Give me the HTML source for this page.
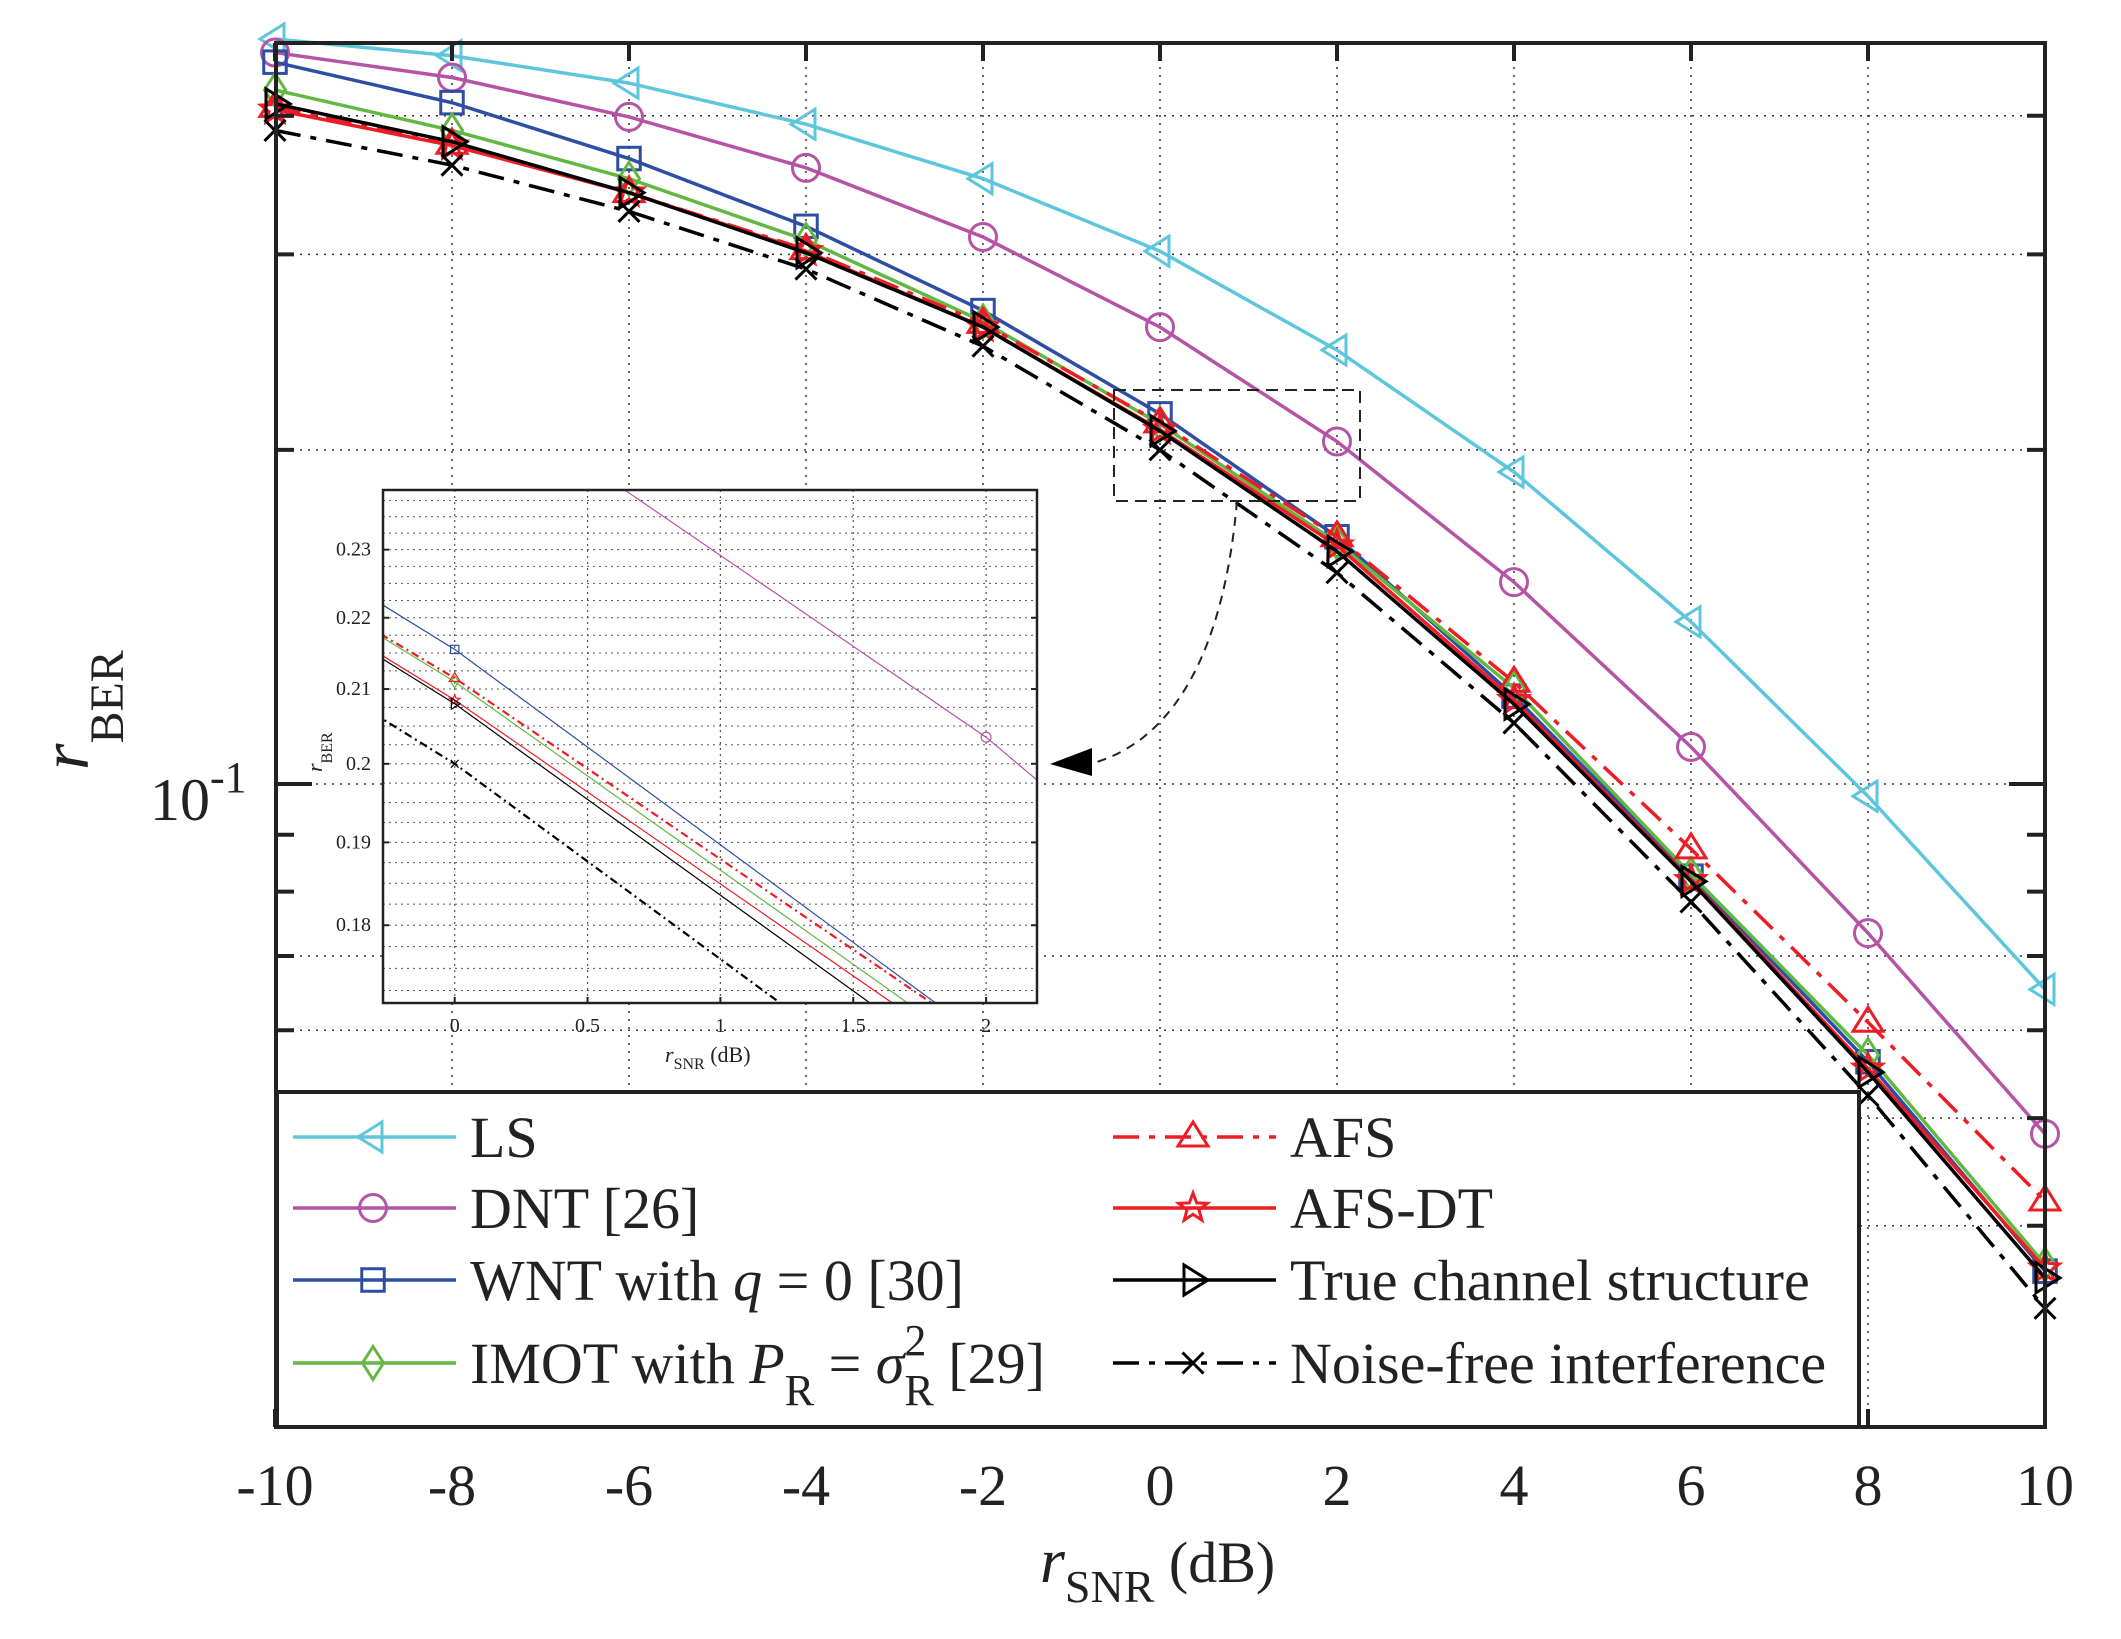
<!DOCTYPE html>
<html><head><meta charset="utf-8"><style>
html,body{margin:0;padding:0;background:#fff;width:2121px;height:1639px;overflow:hidden}
svg{display:block}
text{font-family:"Liberation Serif",serif;fill:#222}
</style></head><body>
<svg id="chart" width="2121" height="1639" viewBox="0 0 2121 1639" xmlns="http://www.w3.org/2000/svg">
<rect width="2121" height="1639" fill="#fff"/>
<g id="grid"></g>
<g id="series"></g>
<g id="axes"></g>
<g id="inset"></g>
<g id="legend"></g>
</svg>
<script>
const snr = [-10,-8,-6,-4,-2,0,2,4,6,8,10];
const xTicks = ["-10","-8","-6","-4","-2","0","2","4","6","8","10"];
const lsVals   = [0.469,0.453,0.428,0.393,0.351,0.302,0.246,0.191,0.140,0.0975,0.0653];
const dntVals  = [0.456,0.433,0.399,0.359,0.311,0.258,0.2035,0.152,0.108,0.0734,0.0484];
const wntVals  = [0.447,0.411,0.366,0.318,0.267,0.2155,0.167,0.120,0.0826,0.0562,0.0364];
const imotVals = [0.422,0.388,0.351,0.309,0.261,0.211,0.165,0.122,0.0829,0.057,0.0369];
const afsVals  = [0.407,0.377,0.341,0.303,0.260,0.2115,0.167,0.1235,0.0874,0.061,0.0421];
const afsdtVals= [0.405,0.376,0.341,0.302,0.258,0.2085,0.164,0.119,0.0819,0.0554,0.0366];
const trueVals = [0.410,0.379,0.341,0.301,0.258,0.208,0.162,0.118,0.0817,0.055,0.0359];
const nfVals   = [0.388,0.361,0.328,0.291,0.248,0.200,0.155,0.1135,0.0783,0.0524,0.0337];
const insetXTicks = [0,0.5,1,1.5,2];
const insetYTicks = [0.18,0.19,0.2,0.21,0.22,0.23];

const NS="http://www.w3.org/2000/svg";
function mk(tag,attrs,parent){const e=document.createElementNS(NS,tag);for(const k in attrs)e.setAttribute(k,attrs[k]);parent.appendChild(e);return e;}
const L=276,R=2045,T=43,B=1427;
const X=v=>1160+(v)*88.5;
const Y=v=>784-1110*Math.log10(v/0.1);

const series=[
 {name:"LS",vals:lsVals,color:"#5ec6dc",dash:"",m:"tl"},
 {name:"DNT",vals:dntVals,color:"#b553a6",dash:"",m:"o"},
 {name:"WNT",vals:wntVals,color:"#2e4ea3",dash:"",m:"s"},
 {name:"IMOT",vals:imotVals,color:"#62b842",dash:"",m:"d"},
 {name:"AFS",vals:afsVals,color:"#ee1c24",dash:"26 10 6 10",m:"tu"},
 {name:"AFS-DT",vals:afsdtVals,color:"#ee1c24",dash:"",m:"p"},
 {name:"True",vals:trueVals,color:"#000",dash:"",m:"tr"},
 {name:"NF",vals:nfVals,color:"#000",dash:"26 10 6 10",m:"x"}
];
function marker(g,type,x,y,s,color,sw){
  const h=s/2;let e;
  const a={fill:"none",stroke:color,"stroke-width":sw};
  if(type==="o"){e=mk("circle",Object.assign({cx:x,cy:y,r:h*0.9},a),g);}
  else if(type==="s"){e=mk("rect",Object.assign({x:x-h*0.75,y:y-h*0.75,width:h*1.5,height:h*1.5},a),g);}
  else{let p;
    if(type==="tl")p=[[x-h,y],[x+h*0.6,y-h],[x+h*0.6,y+h]];
    if(type==="tr")p=[[x+h,y],[x-h*0.6,y-h],[x-h*0.6,y+h]];
    if(type==="tu")p=[[x,y-h],[x-h,y+h*0.6],[x+h,y+h*0.6]];
    if(type==="d")p=[[x,y-h*1.1],[x+h*0.7,y],[x,y+h*1.1],[x-h*0.7,y]];
    if(type==="p"){p=[];for(let i=0;i<10;i++){const r=i%2?h*0.42:h;const an=-Math.PI/2+i*Math.PI/5;p.push([x+r*Math.cos(an),y+r*Math.sin(an)]);}}
    if(type==="x"){e=mk("path",Object.assign({d:`M${x-h*0.7},${y-h*0.7}L${x+h*0.7},${y+h*0.7}M${x-h*0.7},${y+h*0.7}L${x+h*0.7},${y-h*0.7}`},a),g);}
    else e=mk("polygon",Object.assign({points:p.map(q=>q.join(",")).join(" ")},a),g);
  }
  
  
  return e;
}

// grid
const grid=document.getElementById('grid');
snr.forEach(v=>{const l=mk("line",{x1:X(v),x2:X(v),y1:T,y2:B,stroke:"#333","stroke-width":1.5,"stroke-dasharray":"2 6"},grid);

});
[0.04,0.05,0.06,0.07,0.1,0.2,0.3,0.4].forEach(v=>{const l=mk("line",{x1:L,x2:R,y1:Y(v),y2:Y(v),stroke:"#333","stroke-width":1.5,"stroke-dasharray":"2 6"},grid);

});

// series
const sg=document.getElementById('series');
series.forEach(s=>{
  const g=mk("g",{},sg);
  
  
  const pl=mk("polyline",{points:s.vals.map((v,i)=>X(snr[i])+","+Y(v)).join(" "),fill:"none",stroke:s.color,"stroke-width":3.5,"stroke-dasharray":s.dash},g);
  
  
  s.vals.forEach((v,i)=>marker(g,s.m,X(snr[i]),Y(v),30,s.color,3));
});

// axes
const ax=document.getElementById('axes');
const frame=mk("rect",{x:L,y:T,width:R-L,height:B-T,fill:"none",stroke:"#222","stroke-width":4},ax);


snr.forEach((v,i)=>{
  mk("line",{x1:X(v),x2:X(v),y1:B,y2:B-18,stroke:"#222","stroke-width":4},ax);
  mk("line",{x1:X(v),x2:X(v),y1:T,y2:T+18,stroke:"#222","stroke-width":4},ax);
  const t=mk("text",{x:X(v),y:1505,"font-size":58,"text-anchor":"middle"},ax);t.textContent=xTicks[i];
  
  
});
[0.04,0.05,0.06,0.07,0.08,0.09,0.1,0.2,0.3,0.4].forEach(v=>{
  const w=v===0.1?36:18;
  mk("line",{x1:L,x2:L+w,y1:Y(v),y2:Y(v),stroke:"#222","stroke-width":4},ax);
  mk("line",{x1:R,x2:R-w,y1:Y(v),y2:Y(v),stroke:"#222","stroke-width":4},ax);
});
const yt=mk("text",{x:150,y:820,"font-size":60},ax);yt.innerHTML='10<tspan dy="-28" font-size="44">-1</tspan>';


const yl=mk("text",{transform:"translate(88,770) rotate(-90)","font-size":68},ax);yl.innerHTML='<tspan font-style="italic">r</tspan><tspan dy="35" font-size="48">BER</tspan>';


const xl=mk("text",{x:1040,y:1582,"font-size":58},ax);xl.innerHTML='<tspan font-style="italic" font-size="64">r</tspan><tspan dy="20" font-size="46">SNR</tspan><tspan dy="-20"> (dB)</tspan>';


const zr=mk("rect",{x:1114,y:390,width:246,height:111,fill:"none",stroke:"#222","stroke-width":2,"stroke-dasharray":"12 7"},ax);


const ar=mk("path",{d:"M1237,501 C1225,640 1180,740 1090,764",fill:"none",stroke:"#222","stroke-width":2,"stroke-dasharray":"9 7"},ax);


const ah=mk("polygon",{points:"1050,764 1092,748 1092,776",fill:"#000"},ax);



// inset
const ins=document.getElementById('inset');
const iL=383,iR=1037,iT=490,iB=1003;
const IX=v=>454.7+v*265.7;
const IY=v=>763.8-3528*Math.log10(v/0.2);
const ibg=mk("rect",{x:iL,y:iT,width:iR-iL,height:iB-iT,fill:"#fff"},ins);


for(let v=0.1725;v<0.239;v+=0.0025){const l=mk("line",{x1:iL,x2:iR,y1:IY(v),y2:IY(v),stroke:"#555","stroke-width":1,"stroke-dasharray":"2 4"},ins);

}
insetXTicks.forEach(v=>{const l=mk("line",{x1:IX(v),x2:IX(v),y1:iT,y2:iB,stroke:"#555","stroke-width":1.2,"stroke-dasharray":"2 4"},ins);


const t=mk("text",{x:IX(v),y:1032,"font-size":20,"text-anchor":"middle"},ins);t.textContent=String(v);


mk("line",{x1:IX(v),x2:IX(v),y1:iB,y2:iB-6,stroke:"#222","stroke-width":2},ins);});
insetYTicks.forEach(v=>{const t=mk("text",{x:iL-12,y:IY(v)+6,"font-size":20,"text-anchor":"end"},ins);t.textContent=String(v);


mk("line",{x1:iL,x2:iL+6,y1:IY(v),y2:IY(v),stroke:"#222","stroke-width":2},ins);
mk("line",{x1:iR,x2:iR-6,y1:IY(v),y2:IY(v),stroke:"#222","stroke-width":2},ins);});
const cp=mk("clipPath",{id:"iclip"},ins);
mk("rect",{x:iL,y:iT,width:iR-iL,height:iB-iT},cp);
const ig=mk("g",{"clip-path":"url(#iclip)"},ins);


series.forEach(s=>{
  if(s.name==="LS")return;
  const pl=mk("polyline",{points:s.vals.map((v,i)=>IX(snr[i])+","+IY(v)).join(" "),fill:"none",stroke:s.color,"stroke-width":s.dash?2.2:1.2,"stroke-dasharray":s.dash?"8 4 2 4":""},ig);
  
  
  s.vals.forEach((v,i)=>{if(snr[i]>=0&&snr[i]<=2)marker(ig,s.m,IX(snr[i]),IY(v),11,s.color,1.2);});
});
const ifr=mk("rect",{x:iL,y:iT,width:iR-iL,height:iB-iT,fill:"none",stroke:"#222","stroke-width":2.5},ins);


const iyl=mk("text",{transform:"translate(322,772) rotate(-90)","font-size":22},ins);iyl.innerHTML='<tspan font-style="italic">r</tspan><tspan dy="10" font-size="16">BER</tspan>';


const ixl=mk("text",{x:665,y:1062,"font-size":22},ins);ixl.innerHTML='<tspan font-style="italic">r</tspan><tspan dy="7" font-size="16">SNR</tspan><tspan dy="-7"> (dB)</tspan>';



// legend
const lg=document.getElementById('legend');
const lb=mk("rect",{x:277,y:1092,width:1582,height:335,fill:"#fff",stroke:"#222","stroke-width":4},lg);


const labels=[
 'LS','DNT [26]','WNT with <tspan font-style="italic">q</tspan> = 0 [30]','IMOT with <tspan font-style="italic">P</tspan><tspan dy="22" font-size="44">R</tspan><tspan dy="-22"> = </tspan><tspan font-style="italic">σ</tspan><tspan dy="-28" font-size="44">2</tspan><tspan dx="-22" dy="50" font-size="44">R</tspan><tspan dy="-22"> [29]</tspan>',
 'AFS','AFS-DT','True channel structure','Noise-free interference'];
const rows=[1137,1208,1280,1363];
series.forEach((s,i)=>{
  const col=i<4?0:1,row=i%4;
  const x0=col?1113:293,y=rows[row];
  const g=mk("g",{},lg);
  
  
  mk("line",{x1:x0,x2:x0+163,y1:y,y2:y,stroke:s.color,"stroke-width":3.5,"stroke-dasharray":s.dash},g);
  marker(g,s.m,x0+80,y,30,s.color,3);
  const t=mk("text",{x:x0+177,y:y+20,"font-size":58},g);t.innerHTML=labels[i];
});
</script>
</body></html>
